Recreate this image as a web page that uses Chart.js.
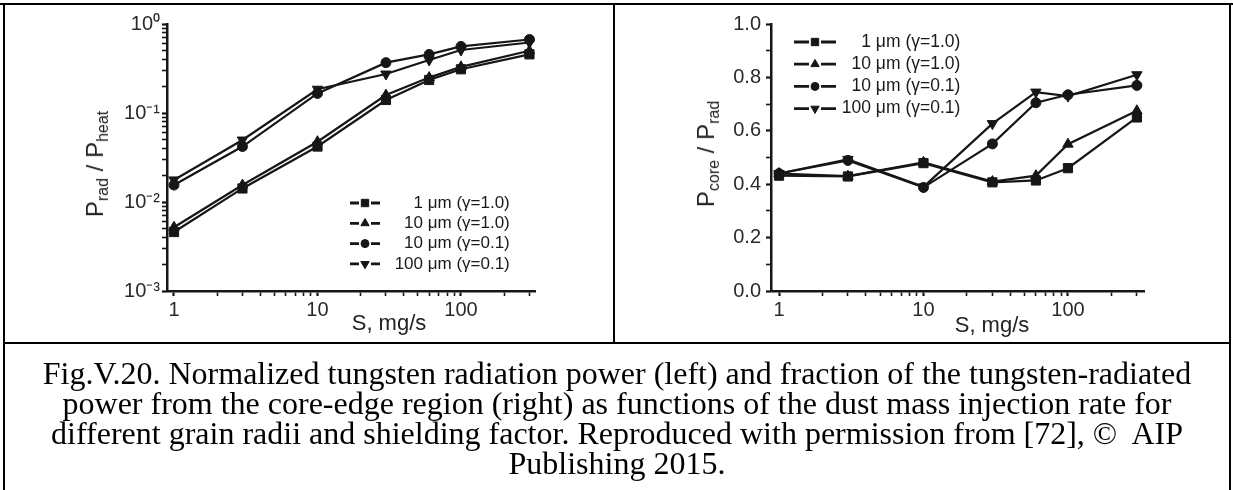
<!DOCTYPE html>
<html>
<head>
<meta charset="utf-8">
<script src="https://cdn.jsdelivr.net/npm/chart.js@4.4.1/dist/chart.umd.min.js"></script>
<style>
html, body { margin: 0; padding: 0; background: #fff; }
body { width: 1233px; height: 490px; position: relative; overflow: hidden; font-family: "Liberation Sans", Arial, sans-serif; color: #1a1a1a; }
canvas { position: absolute; top: 0; }
#leftChart { left: 0; }
#rightChart { left: 614px; }
.rule { position: absolute; background: #000; }
.ytitle { position: absolute; transform: translate(-50%, -50%) rotate(-90deg); white-space: nowrap; font-size: 24px; line-height: 26px; color: #222; }
.ytitle sub { font-size: 16px; vertical-align: -5px; line-height: 0; }
.xtitle { position: absolute; transform: translateX(-50%); white-space: nowrap; font-size: 22px; line-height: 22px; color: #222; }
#caption { position: absolute; left: 4px; width: 1226px; top: 358px; text-align: center; font-family: "Liberation Serif", "Times New Roman", serif; font-size: 32px; line-height: 30px; color: #000; }
</style>
</head>
<body>
<canvas id="leftChart" width="614" height="343"></canvas>
<canvas id="rightChart" width="616" height="343"></canvas>

<div class="rule" style="left:0;top:3px;width:1233px;height:2px"></div>
<div class="rule" style="left:3px;top:3px;width:2px;height:487px"></div>
<div class="rule" style="left:613px;top:3px;width:2px;height:341px"></div>
<div class="rule" style="left:1229px;top:3px;width:2px;height:487px"></div>
<div class="rule" style="left:3px;top:342px;width:1228px;height:2px"></div>

<div class="ytitle" style="left:95px;top:164px">P<sub>rad</sub> / P<sub>heat</sub></div>
<div class="ytitle" style="left:706px;top:154px">P<sub>core</sub> / P<sub>rad</sub></div>
<div class="xtitle" style="left:389px;top:312px">S, mg/s</div>
<div class="xtitle" style="left:992px;top:314px">S, mg/s</div>

<div id="caption">Fig.V.20. Normalized tungsten radiation power (left) and fraction of the tungsten-radiated<br>power from the core-edge region (right) as functions of the dust mass injection rate for<br>different grain radii and shielding factor. Reproduced with permission from [72], &copy;&nbsp; AIP<br>Publishing 2015.</div>

<script>
// injection rate S, mg/s
const sRate = [1, 3, 10, 30, 60, 100, 300];
const grainRadius = ['1', '10', '10', '100'];
const shieldFactor = ['1.0', '1.0', '0.1', '0.1'];

// left: P_rad / P_heat
const radHeat1umG10   = [0.0046, 0.0142, 0.042, 0.14, 0.235, 0.31, 0.456];
const radHeat10umG10  = [0.0052, 0.0155, 0.0476, 0.159, 0.25, 0.33, 0.50];
const radHeat10umG01  = [0.0155, 0.042, 0.166, 0.368, 0.455, 0.56, 0.67];
const radHeat100umG01 = [0.0177, 0.0497, 0.185, 0.274, 0.394, 0.51, 0.62];

// right: P_core / P_rad
const coreRad1umG10   = [0.432, 0.429, 0.479, 0.407, 0.414, 0.46, 0.65];
const coreRad10umG10  = [0.44, 0.43, 0.482, 0.41, 0.432, 0.55, 0.675];
const coreRad10umG01  = [0.44, 0.489, 0.388, 0.551, 0.705, 0.735, 0.77];
const coreRad100umG01 = [0.44, 0.493, 0.39, 0.627, 0.745, 0.73, 0.81];

// tick labels
const xMajor = [1, 10, 100];
const xTickLabels = ['1', '10', '100'];
const leftYMajor = [0.001, 0.01, 0.1, 1];
const leftYTickLabels = ['10\u207B\u00B3', '10\u207B\u00B2', '10\u207B\u00B9', '10\u2070'];
const rightYMajor = [0, 0.2, 0.4, 0.6, 0.8, 1.0];
const rightYTickLabels = ['0.0', '0.2', '0.4', '0.6', '0.8', '1.0'];

const ink = '#161616';
const fontFamily = '"Liberation Sans", Arial, sans-serif';
const markers = [
  { pointStyle: 'rect', pointRadius: 6.5, pointRotation: 0 },
  { pointStyle: 'triangle', pointRadius: 6, pointRotation: 0 },
  { pointStyle: 'circle', pointRadius: 5, pointRotation: 0 },
  { pointStyle: 'triangle', pointRadius: 6, pointRotation: 180 }
];

// minor tick marks (positions only)
const logMarks = (lo, hi) => { const out = []; for (let e = lo; e <= hi; e++) for (let k = 1; k < 10; k++) out.push(k * Math.pow(10, e)); return out; };
const xMarks = logMarks(0, 1).concat([100, 200, 300]);
const leftYMarks = logMarks(-3, -1).concat([1]);
const rightYMarks = [0, 0.1, 0.2, 0.3, 0.4, 0.5, 0.6, 0.7, 0.8, 0.9, 1.0];

const findLabel = (v, majors, labels) => {
  const i = majors.findIndex(m => Math.abs(m - v) <= Math.abs(m) * 1e-6 + 1e-9);
  return i >= 0 ? labels[i] : '';
};
const isMajor = (v, majors) => findLabel(v, majors, majors.map(() => 'x')) !== '';

function makeSets(series) {
  return series.map((vals, i) => Object.assign({
    label: grainRadius[i] + ' \u03BCm (\u03B3=' + shieldFactor[i] + ')',
    data: sRate.map((s, j) => ({ x: s, y: vals[j] })),
    borderColor: ink, backgroundColor: ink,
    pointBackgroundColor: ink, pointBorderColor: ink, pointBorderWidth: 1,
    borderWidth: 2.2, tension: 0, fill: false
  }, markers[i]));
}

function axisStyle(majors, labels, marks, pad) {
  return {
    border: { color: ink, width: 2.5 },
    grid: {
      drawOnChartArea: false, drawTicks: true, tickLength: 5, tickColor: ink,
      tickWidth: c => (c.tick && isMajor(c.tick.value, majors)) ? 2.2 : 1.6
    },
    ticks: {
      autoSkip: false, maxRotation: 0, color: '#2a2a2a', padding: pad,
      font: { family: fontFamily, size: 20 },
      callback: v => findLabel(v, majors, labels)
    },
    afterBuildTicks: ax => { ax.ticks = marks.map(v => ({ value: v })); }
  };
}

// legend inside the plot: line - marker - line, then label
const insideLegend = {
  id: 'insideLegend',
  afterDatasetsDraw(chart, args, o) {
    const ctx = chart.ctx;
    ctx.save();
    chart.data.datasets.forEach((ds, i) => {
      const y = o.y0 + i * o.gap;
      const xm = o.x0 + o.lineLen / 2;
      ctx.strokeStyle = ink; ctx.fillStyle = ink; ctx.lineWidth = 2.8;
      ctx.beginPath();
      ctx.moveTo(o.x0, y); ctx.lineTo(xm - 6, y);
      ctx.moveTo(xm + 6, y); ctx.lineTo(o.x0 + o.lineLen, y);
      ctx.stroke();
      ctx.lineWidth = 1;
      Chart.helpers.drawPoint(ctx, { pointStyle: ds.pointStyle, radius: ds.pointRadius * 0.8, rotation: ds.pointRotation, borderWidth: 1 }, xm, y);
      ctx.fillStyle = '#1a1a1a';
      ctx.font = o.fontSize + 'px ' + fontFamily;
      ctx.textBaseline = 'middle';
      ctx.textAlign = 'right';
      ctx.fillText(grainRadius[i], o.numRight, y);
      ctx.textAlign = 'left';
      ctx.fillText(' \u03BCm (\u03B3=' + shieldFactor[i] + ')', o.numRight, y);
    });
    ctx.restore();
  }
};

const common = {
  responsive: false, animation: false, devicePixelRatio: 1,
  plugins: { legend: { display: false }, tooltip: { enabled: false } }
};

new Chart(document.getElementById('leftChart'), {
  type: 'line',
  data: { datasets: makeSets([radHeat1umG10, radHeat10umG10, radHeat10umG01, radHeat100umG01]) },
  options: Object.assign({}, common, {
    layout: { padding: { left: 120, right: 79, top: 24, bottom: 0 } },
    plugins: Object.assign({}, common.plugins, {
      insideLegend: { x0: 350, lineLen: 30, y0: 203, gap: 20.3, numRight: 423, fontSize: 17 }
    }),
    scales: {
      x: Object.assign(axisStyle(xMajor, xTickLabels, xMarks, 2), {
        type: 'logarithmic', min: 0.894, max: 328,
        afterFit: ax => { ax.height = 52; }
      }),
      y: Object.assign(axisStyle(leftYMajor, leftYTickLabels, leftYMarks, 2), {
        type: 'logarithmic', min: 0.001, max: 1,
        afterFit: ax => { ax.width = 47; }
      })
    }
  }),
  plugins: [insideLegend]
});

new Chart(document.getElementById('rightChart'), {
  type: 'line',
  data: { datasets: makeSets([coreRad1umG10, coreRad10umG10, coreRad10umG01, coreRad100umG01]) },
  options: Object.assign({}, common, {
    layout: { padding: { left: 110, right: 86, top: 24, bottom: 0 } },
    plugins: Object.assign({}, common.plugins, {
      insideLegend: { x0: 180, lineLen: 42, y0: 42, gap: 22.2, numRight: 257, fontSize: 17.5 }
    }),
    scales: {
      x: Object.assign(axisStyle(xMajor, xTickLabels, xMarks, 2), {
        type: 'logarithmic', min: 0.88, max: 336,
        afterFit: ax => { ax.height = 52; }
      }),
      y: Object.assign(axisStyle(rightYMajor, rightYTickLabels, rightYMarks, 5), {
        type: 'linear', min: 0, max: 1,
        afterFit: ax => { ax.width = 47; }
      })
    }
  }),
  plugins: [insideLegend]
});
</script>
</body>
</html>
